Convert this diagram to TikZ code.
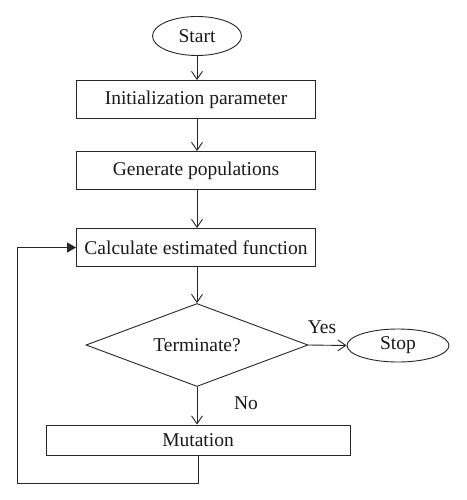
\documentclass[tikz,border=0pt]{standalone}
\usepackage{fontspec}
\setmainfont{Liberation Serif}
\usepackage{tikz}
\usetikzlibrary{shapes.geometric,arrows.meta,positioning}
\tikzstyle{terminal}=[ellipse, draw=black!85, line width=0.9pt, inner sep=0pt, text=black!90, font=\fontsize{19.5}{23}\selectfont]
\tikzstyle{process}=[rectangle, draw=black!85, line width=0.9pt, minimum width=239pt, minimum height=38pt, inner sep=0pt, text=black!90, font=\fontsize{19.5}{23}\selectfont]
\tikzstyle{decision}=[diamond, draw=black!85, line width=0.9pt, aspect=2.67, inner sep=0pt, minimum width=222pt, minimum height=83pt, text=black!90, font=\fontsize{19.5}{23}\selectfont]
\tikzstyle{label1}=[text=black!90, font=\fontsize{19.5}{23}\selectfont]
\tikzstyle{arrow1}=[draw=black!85, line width=0.9pt, -{Straight Barb[length=8pt,width=11pt]}]
\tikzstyle{arrow2}=[draw=black!85, line width=0.9pt, -{Triangle[length=9pt,width=10pt]}]

\begin{document}
\begin{tikzpicture}[x=1pt,y=-1pt]
\useasboundingbox (0,0) rectangle (466,500);
%Column
\node[terminal, minimum width=89pt, minimum height=39pt] (start) at (197,36){Start};
\node[process] (init) at (196,99.5){Initialization parameter};
\node[process] (gen) at (196,170.5){Generate populations};
\node[process] (calc) at (196,247.5){Calculate estimated function};
\node[decision] (term) at (197,345){Terminate?};
\node[terminal, minimum width=102pt, minimum height=33pt] (stop) at (398,345.5){Stop};
\node[process, minimum width=304pt, minimum height=30pt] (mut) at (198,440){Mutation};
%Labels
\node[label1] (yes) at (322,327){Yes};
\node[label1] (no) at (246,403){No};
%Arrows
\draw[arrow1] (start.south) -- (start |- init.north);
\draw[arrow1] (start |- init.south) -- (start |- gen.north);
\draw[arrow1] (start |- gen.south) -- (start |- calc.north);
\draw[arrow1] (start |- calc.south) -- (term.north);
\draw[arrow1] (term.east) -- (stop.west);
\draw[arrow1] (term.south) -- (term |- mut.north);
%Loop back
\coordinate (loop) at (17,483);
\draw[arrow2] (mut.south) |- (loop) |- (calc.west);
\end{tikzpicture}
\end{document}
